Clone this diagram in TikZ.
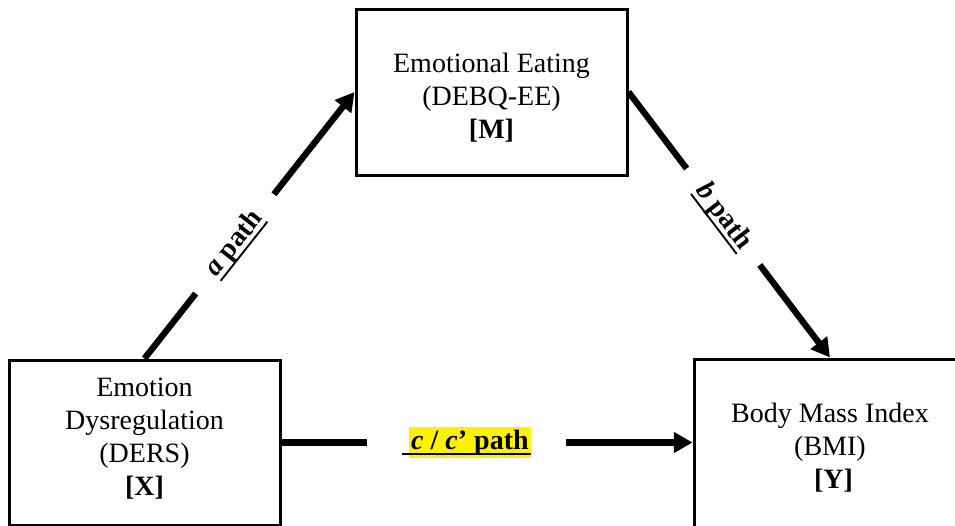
\documentclass[tikz,border=0pt]{standalone}
\usepackage{fontspec}
\setmainfont{Liberation Serif}
\usetikzlibrary{arrows.meta}
% thick underline for the path labels
\newcommand{\pathul}[1]{\setbox0\hbox{#1}\leavevmode\copy0\llap{\rule[-4.5pt]{\wd0}{1.4pt}}}
\begin{document}
\begin{tikzpicture}[x=0.75pt,y=0.75pt,yscale=-1,xscale=1,
	varbox/.style={draw, line width=2.25pt, align=center, inner sep=0pt, text depth=0pt, font=\fontsize{21}{24.75}\selectfont},
	effect/.style={line width=4.75pt, -{Triangle[length=14pt,width=15pt]}},
	pathlab/.style={fill=white, inner ysep=1pt, font=\fontsize{21}{24.75}\selectfont\bfseries}]
	%set diagram left start at 0, and has height of 525
	\useasboundingbox (0,0) rectangle (955,525);
	
	%Shape: Rectangle [M]
	\node [varbox, minimum width=203.25pt, minimum height=124.5pt, text height=69pt] (emoeat) at (491.5,92) {Emotional Eating\\(DEBQ-EE)\\\textbf{[M]}};
	%Shape: Rectangle [X]
	\node [varbox, minimum width=203.25pt, minimum height=123.75pt, text height=78.75pt] (emodys) at (144.5,442.5) {Emotion\\Dysregulation\\(DERS)\\\textbf{[X]}};
	%Shape: Rectangle [Y]
	\node [varbox, minimum width=204pt, minimum height=126.75pt, text height=66.75pt] (bmi) at (830,443.5) {Body Mass Index\\(BMI)\\\ \textbf{[Y]}};
	
	% Straight Lines [a, b, c]
	\draw [effect] (emodys.north) -- node [pathlab, pos=0.43, inner xsep=19pt, rotate=51.7] {\pathul{\textit{a} path}} (emoeat.west);
	\draw [effect] (emoeat.east) -- node [pathlab, pos=0.47, inner xsep=17pt, rotate=-52.7] {\pathul{\textit{b} path}} (bmi.north);
	\draw [effect] (emodys.east) -- node [pathlab, pos=0.45, inner xsep=26pt] {\setlength{\fboxsep}{2pt}\pathul{\ \colorbox{yellow}{\textit{c} / \textit{c}’ path}}} (emodys.east -| bmi.west);
	
\end{tikzpicture}
\end{document}
